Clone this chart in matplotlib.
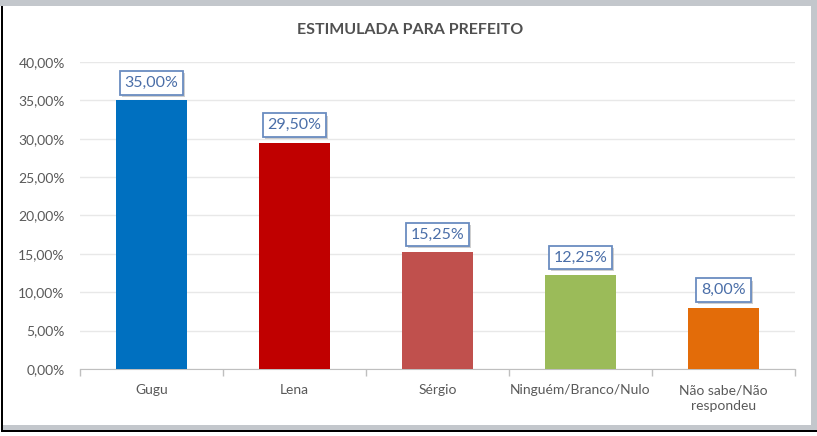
import matplotlib
matplotlib.use("Agg")
import matplotlib.pyplot as plt
import matplotlib.patheffects as pe
from matplotlib.patches import Rectangle
from matplotlib.ticker import FuncFormatter, FixedLocator
import numpy as np

plt.rcParams['font.family'] = ['Lato', 'DejaVu Sans']

categorias = ['Gugu', 'Lena', 'Sérgio', 'Ninguém/Branco/Nulo', 'Não sabe/Não\nrespondeu']
valores = [0.35, 0.295, 0.1525, 0.1225, 0.08]
rotulos = ['35,00%', '29,50%', '15,25%', '12,25%', '8,00%']
cores = ['#0070c0', '#c00000', '#c0504d', '#9bbb59', '#e36c09']

W, H = 817, 436
fig = plt.figure(figsize=(W / 100, H / 100), dpi=100)
fig.patch.set_facecolor('white')

# moldura do print
def px_rect(x0, y0, x1, y1, cor):
    fig.patches.append(Rectangle((x0 / W, 1 - y1 / H), (x1 - x0) / W, (y1 - y0) / H,
                                 transform=fig.transFigure, facecolor=cor, edgecolor='none', zorder=0))

px_rect(0, 0, 817, 6, '#c3c7cc')
px_rect(811, 0, 817, 431, '#c3c7cc')
px_rect(3, 425, 817, 430, '#c3c7cc')
px_rect(2, 430, 817, 432, '#000000')
px_rect(1, 6, 3, 432, '#000000')

ax = fig.add_axes([80 / W, 67 / H, (795 - 80) / W, (374 - 67) / H])
x = np.arange(len(categorias))
ax.bar(x, valores, width=0.5, color=cores, zorder=3)

ax.set_xlim(-0.5, len(categorias) - 0.5)
ax.set_ylim(0, 0.40)
ax.set_yticks(np.arange(0, 0.401, 0.05))
ax.yaxis.set_major_formatter(FuncFormatter(lambda v, p: f'{v * 100:.2f}%'.replace('.', ',')))
ax.grid(axis='y', color='#e8e8e8', linewidth=1, zorder=0)
ax.tick_params(axis='y', length=0, pad=11, labelsize=10, labelcolor='#595959')

ax.set_xticks(x)
ax.set_xticklabels(categorias, linespacing=1.35)
ax.tick_params(axis='x', which='major', length=0, pad=11, labelsize=10, labelcolor='#595959')
ax.xaxis.set_minor_locator(FixedLocator(np.arange(-0.5, len(categorias), 1.0)))
ax.tick_params(axis='x', which='minor', length=5, color='#bfbfbf', width=1)

for s in ['top', 'right', 'left']:
    ax.spines[s].set_visible(False)
ax.spines['bottom'].set_color('#bfbfbf')

for xi, v, r in zip(x, valores, rotulos):
    t = ax.annotate(r, (xi, v), xytext=(0, 12.5), textcoords='offset points',
                    ha='center', va='center', fontsize=11.5, color='#4a6ea8', zorder=5,
                    bbox=dict(boxstyle='square,pad=0.3', facecolor='white',
                              edgecolor='#6a8cc0', linewidth=1.3))
    t.get_bbox_patch().set_path_effects([
        pe.SimplePatchShadow(offset=(1.5, -1.5), shadow_rgbFace='#b0b0b0', alpha=0.6),
        pe.Normal()])

fig.text(410 / W, 1 - 30 / H, 'ESTIMULADA PARA PREFEITO', ha='center', va='center',
         fontsize=11.5, fontweight='bold', color='#505050')

fig.savefig('out.png', dpi=100)
